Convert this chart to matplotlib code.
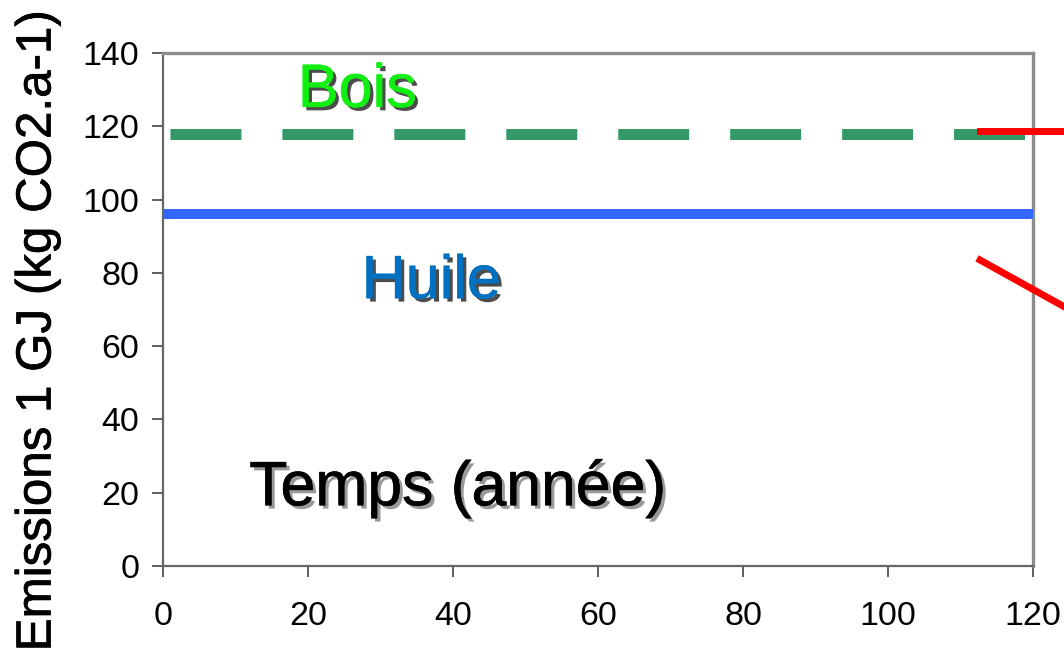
import matplotlib
matplotlib.use("Agg")
import matplotlib.pyplot as plt
import matplotlib.patheffects as pe

plt.rcParams['font.family'] = ['Liberation Sans', 'DejaVu Sans']
plt.rcParams['lines.scale_dashes'] = False

# Data
years = [0, 120]
bois = [118, 118]
huile = [96, 96]
x_ticks = [0, 20, 40, 60, 80, 100, 120]
y_ticks = [0, 20, 40, 60, 80, 100, 120, 140]
y_label = "Emissions 1 GJ (kg CO2.a-1)"
x_note = "Temps (année)"
# red annotation pointers (partly outside the plot)
arrow1_x = [112.7, 130]
arrow1_y = [118.8, 118.8]
arrow2_x = [112.7, 130]
arrow2_y = [83.5, 64.5]

fig = plt.figure(figsize=(10.64, 6.59), dpi=100)
ax = fig.add_axes([163/1064, 1 - 566/659, (1033-163)/1064, (566-53)/659])

ax.plot(years, huile, color='#3366ff', lw=7.2, solid_capstyle='projecting', zorder=3)
ax.plot(years, bois, color='#339966', lw=7.9, dash_capstyle='butt',
        linestyle=(75.6, (51.1, 29.5)), zorder=3)

ax.plot(arrow1_x, arrow1_y, color='red', lw=5, clip_on=False, zorder=4)
ax.plot(arrow2_x, arrow2_y, color='red', lw=5, clip_on=False, zorder=4)

ax.set_xlim(0, 120)
ax.set_ylim(0, 140)
ax.set_xticks(x_ticks)
ax.set_yticks(y_ticks)
ax.tick_params(axis='both', labelsize=24.5, length=8, width=1.2, color='#444444',
               direction='out')
ax.tick_params(axis='y', pad=9)
ax.tick_params(axis='x', pad=17)

for side in ['left', 'bottom']:
    ax.spines[side].set_color('#666666')
    ax.spines[side].set_linewidth(1.6)
for side in ['top', 'right']:
    ax.spines[side].set_color('#8c8c8c')
    ax.spines[side].set_linewidth(2.4)

def shadow(color, alpha, off=2.5, thick=0.4):
    return [pe.SimplePatchShadow(offset=(off, -off), shadow_rgbFace='black', alpha=alpha),
            pe.Stroke(linewidth=thick, foreground=color),
            pe.Normal()]

ax.text(18.6, 125.3, "Bois", fontsize=44, color='#11ee11', ha='left', va='baseline',
        path_effects=shadow('#11ee11', 0.7), zorder=5)
ax.text(27.4, 73.1, "Huile", fontsize=44, color='#0070c0', ha='left', va='baseline',
        path_effects=shadow('#0070c0', 0.7), zorder=5)
ax.text(11.9, 16.6, x_note, fontsize=45, color='black', ha='left', va='baseline',
        path_effects=shadow('black', 0.4, thick=0.5), zorder=5)

fig.text(38/1064, 1 - 331/659, y_label, rotation=90, fontsize=35.5,
         ha='center', va='center',
         path_effects=[pe.Stroke(linewidth=0.5, foreground='black'), pe.Normal()])

fig.savefig("out.png", dpi=100)
